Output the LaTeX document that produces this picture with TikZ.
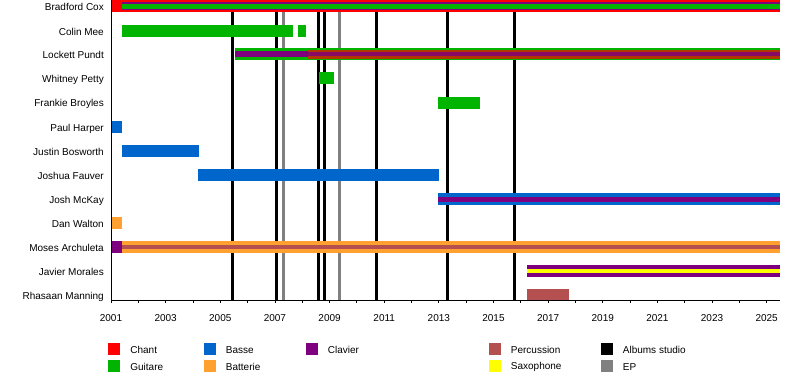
\documentclass[tikz,border=0pt]{standalone}
\usepackage{fontspec}
\setmainfont{Liberation Sans}
\definecolor{chant}{RGB}{255,0,0}
\definecolor{guitare}{RGB}{0,180,0}
\definecolor{basse}{RGB}{0,102,204}
\definecolor{batterie}{RGB}{255,160,48}
\definecolor{clavier}{RGB}{127,0,127}
\definecolor{percussion}{RGB}{180,80,80}
\definecolor{saxophone}{RGB}{255,255,0}
\definecolor{epgray}{RGB}{128,128,128}

\begin{document}
\begin{tikzpicture}[x=1pt,y=-1pt,font=\fontsize{10}{12}\selectfont,
    member/.style={anchor=base east,inner sep=0pt},
    yearlbl/.style={anchor=base,inner sep=0pt},
    album/.style={line width=3pt,black},
    ep/.style={line width=3pt,epgray},
    keybox/.style={minimum size=12pt,inner sep=0pt},
    keylbl/.style={anchor=west,inner sep=0pt}]
    \useasboundingbox (0,0) rectangle (800,380);

    % albums studio and EPs
    \draw [album] (232,0) -- (232,300);
    \draw [album] (276,0) -- (276,300);
    \draw [ep] (283,0) -- (283,300);
    \draw [album] (318,0) -- (318,300);
    \draw [album] (324,0) -- (324,300);
    \draw [ep] (339,0) -- (339,300);
    \draw [album] (376,0) -- (376,300);
    \draw [album] (447,0) -- (447,300);
    \draw [album] (514,0) -- (514,300);

    % members
    \path (104,10.6) node [member] (cox) {Bradford Cox};
    \fill [chant] (111,0) rectangle (780,12);
    \fill [clavier] (122,2) rectangle (780,10);
    \fill [guitare] (122,3.5) rectangle (780,8.5);

    \path (104,35) node [member] (mee) {Colin Mee};
    \fill [guitare] (122,24.5) rectangle (293,36.5);
    \fill [guitare] (298,24.5) rectangle (306,36.5);

    \path (104,58.6) node [member] (pundt) {Lockett Pundt};
    \fill [guitare] (235,48) rectangle (780,60);
    \fill [clavier] (235,51) rectangle (308,57);
    \fill [chant,opacity=0.7] (308,49.5) rectangle (780,58.5);
    \fill [clavier,opacity=0.8] (308,52) rectangle (780,56);

    \path (104,82.6) node [member] (petty) {Whitney Petty};
    \fill [guitare] (319,72) rectangle (334,84);

    \path (104,106.6) node [member] (broyles) {Frankie Broyles};
    \fill [guitare] (438,96.5) rectangle (480,108.5);

    \path (104,131.3) node [member] (harper) {Paul Harper};
    \fill [basse] (111,121) rectangle (122,133);

    \path (104,155.3) node [member] (bosworth) {Justin Bosworth};
    \fill [basse] (122,145) rectangle (199,157);

    \path (104,179.3) node [member] (fauver) {Joshua Fauver};
    \fill [basse] (198,169) rectangle (439,181);

    \path (104,203.3) node [member] (mckay) {Josh McKay};
    \fill [basse] (438,193) rectangle (780,205);
    \fill [clavier] (438,196.5) rectangle (780,201.5);

    \path (104,227.3) node [member] (walton) {Dan Walton};
    \fill [batterie] (111,217) rectangle (122,229);

    \path (104,251.3) node [member] (archuleta) {Moses Archuleta};
    \fill [clavier] (111,241) rectangle (122,253);
    \fill [batterie] (122,241) rectangle (780,253);
    \fill [percussion] (122,245) rectangle (780,249);

    \path (104,275.3) node [member] (morales) {Javier Morales};
    \fill [clavier] (527,265) rectangle (780,277);
    \fill [saxophone] (527,269) rectangle (780,273);

    \path (104,299.3) node [member] (manning) {Rhasaan Manning};
    \fill [percussion] (527,289) rectangle (569,300);

    % axes
    \draw [line width=1pt] (111,0) -- (111,300) -- (780,300);
    \foreach \k in {0,...,24}
        \draw [line width=0.8pt] (111+27.32*\k,300) -- ++(0,3);
    \foreach \k in {0,2,...,24} {
        \pgfmathtruncatemacro\yr{2001+\k}
        \path (111+27.32*\k,321.5) node [yearlbl] (yr\k) {\yr};
    }

    % legend
    \path (114,348.5) node [keybox,fill=chant] (kchant) {};
    \path (kchant.east) ++(10,1.5) node [keylbl] (lchant) {Chant};
    \path (114,365.5) node [keybox,fill=guitare] (kguitare) {};
    \path (kguitare.east) ++(10,1.5) node [keylbl] (lguitare) {Guitare};
    \path (209.5,348.5) node [keybox,fill=basse] (kbasse) {};
    \path (kbasse.east) ++(10,1.5) node [keylbl] (lbasse) {Basse};
    \path (209.5,365.5) node [keybox,fill=batterie] (kbatterie) {};
    \path (kbatterie.east) ++(10,1.5) node [keylbl] (lbatterie) {Batterie};
    \path (311.5,348.5) node [keybox,fill=clavier] (kclavier) {};
    \path (kclavier.east) ++(10,1.5) node [keylbl] (lclavier) {Clavier};
    \path (494.5,348.5) node [keybox,fill=percussion] (kperc) {};
    \path (kperc.east) ++(10,1.5) node [keylbl] (lperc) {Percussion};
    \path (494.5,365.5) node [keybox,fill=saxophone] (ksax) {};
    \path (ksax.east) ++(10,1.5) node [keylbl] (lsax) {Saxophone};
    \path (606.5,348.5) node [keybox,fill=black] (kalbum) {};
    \path (kalbum.east) ++(10,1.5) node [keylbl] (lalbum) {Albums studio};
    \path (606.5,365.5) node [keybox,fill=epgray] (kep) {};
    \path (kep.east) ++(10,1.5) node [keylbl] (lep) {EP};
\end{tikzpicture}
\end{document}
